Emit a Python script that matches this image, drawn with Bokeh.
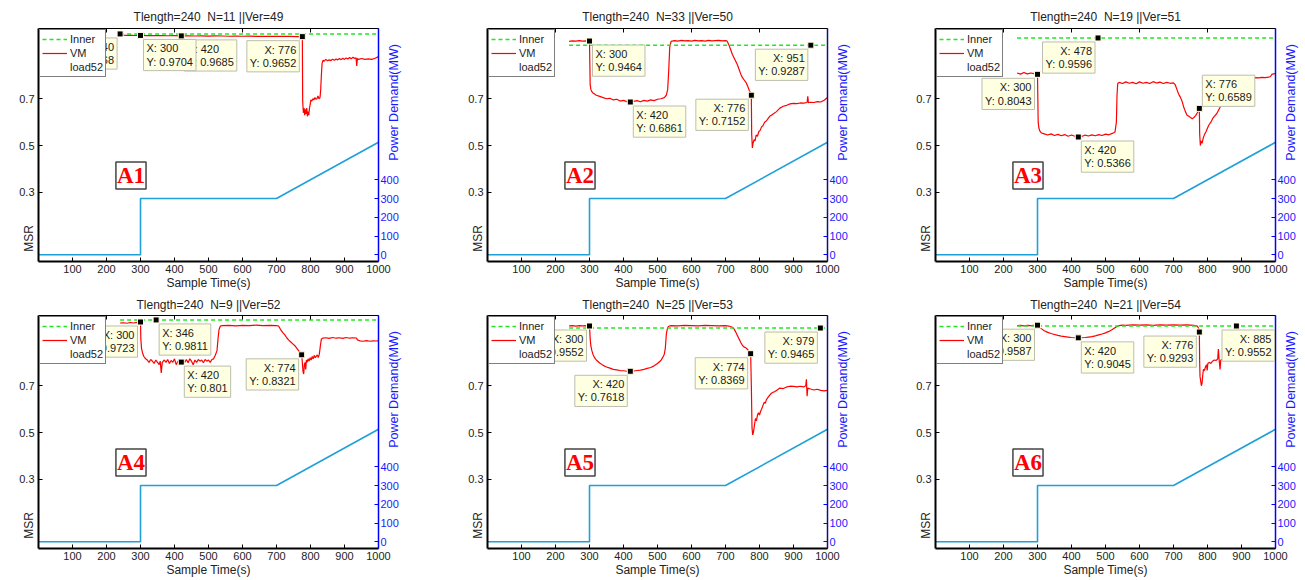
import math
from bokeh.plotting import figure
from bokeh.models import Range1d, LinearAxis, FixedTicker, Label, Legend, LegendItem
from bokeh.layouts import column, row
from bokeh.embed import file_html
from bokeh.resources import INLINE

# ---------------- data ----------------
NB = "\u00a0"
titles = ["Tlength=240" + NB + " N=11 ||Ver=49", "Tlength=240" + NB + " N=33 ||Ver=50",
          "Tlength=240" + NB + " N=19 ||Ver=51", "Tlength=240" + NB + " N=9 ||Ver=52",
          "Tlength=240" + NB + " N=25 ||Ver=53", "Tlength=240" + NB + " N=21 ||Ver=54"]
tags = ["A1", "A2", "A3", "A4", "A5", "A6"]
x_ticks = [100, 200, 300, 400, 500, 600, 700, 800, 900, 1000]
top_ticks = [200, 400, 600, 800, 1000]
msr_ticks = [0.3, 0.5, 0.7]
mw_ticks = [0, 100, 200, 300, 400]

load_t = [0, 300, 300, 700, 1000]
load_mw = [0, 0, 300, 300, 600]

inner_t = [240, 1000]
inner_levels = [0.9768, 0.9287, 0.9596, 0.9811, 0.9465, 0.9552]

vm1_t = [240, 250, 260, 270, 280, 290, 300, 320, 340, 360, 380, 400, 420, 440, 460, 480, 500, 520, 540, 560,
         580, 600, 620, 640, 660, 680, 700, 720, 740, 760, 776, 777, 779, 781, 783, 785, 787, 789, 791, 793,
         795, 797, 799, 801, 804, 807, 810, 813, 816, 819, 822, 825, 828, 830, 832, 834, 837, 840, 845, 850,
         855, 860, 865, 870, 875, 880, 885, 890, 895, 900, 905, 910, 915, 920, 925, 930, 934, 936, 938, 942,
         950, 960, 970, 980, 990, 1000]
vm1_v = [0.9768, 0.972, 0.971, 0.9715, 0.970, 0.9712, 0.9704, 0.970, 0.9695, 0.9702, 0.969, 0.9695, 0.9685,
         0.969, 0.968, 0.9688, 0.9678, 0.9685, 0.968, 0.967, 0.9678, 0.967, 0.9675, 0.9665, 0.967, 0.966,
         0.9668, 0.966, 0.9665, 0.9655, 0.9652, 0.69, 0.64, 0.66, 0.63, 0.655, 0.635, 0.66, 0.625, 0.645,
         0.63, 0.66, 0.675, 0.695, 0.69, 0.70, 0.695, 0.705, 0.698, 0.70, 0.712, 0.70, 0.705, 0.74, 0.80,
         0.85, 0.865, 0.86, 0.868, 0.862, 0.866, 0.863, 0.869, 0.864, 0.87, 0.866, 0.872, 0.867, 0.873,
         0.868, 0.874, 0.87, 0.876, 0.871, 0.877, 0.872, 0.875, 0.84, 0.872, 0.868, 0.872, 0.868, 0.87,
         0.868, 0.873, 0.88]

vm2_t = [240, 250, 260, 270, 280, 290, 300, 301, 302, 304, 307, 310, 315, 320, 330, 340, 350, 360, 370, 380,
         390, 400, 410, 420, 430, 440, 450, 460, 470, 480, 490, 500, 510, 520, 526, 530, 533, 536, 540, 550,
         560, 570, 580, 590, 600, 610, 620, 630, 640, 650, 660, 670, 680, 690, 700, 705, 710, 715, 720, 725,
         730, 735, 740, 745, 750, 755, 760, 765, 770, 774, 776, 777, 779, 781, 784, 787, 790, 794, 798, 802,
         806, 810, 815, 820, 825, 830, 835, 840, 850, 860, 870, 880, 890, 900, 910, 920, 930, 940, 942, 944,
         950, 960, 970, 980, 990, 1000]
vm2_v = [0.945, 0.947, 0.946, 0.948, 0.946, 0.947, 0.9464, 0.85, 0.76, 0.74, 0.73, 0.725, 0.72, 0.715, 0.71,
         0.705, 0.70, 0.702, 0.695, 0.698, 0.69, 0.693, 0.688, 0.6861, 0.689, 0.692, 0.687, 0.693, 0.69,
         0.695, 0.692, 0.698, 0.70, 0.705, 0.715, 0.74, 0.82, 0.92, 0.945, 0.948, 0.946, 0.949, 0.947, 0.948,
         0.946, 0.949, 0.947, 0.948, 0.946, 0.949, 0.947, 0.948, 0.949, 0.947, 0.948, 0.946, 0.93, 0.91,
         0.89, 0.875, 0.86, 0.845, 0.825, 0.805, 0.79, 0.78, 0.77, 0.755, 0.735, 0.725, 0.7152, 0.55, 0.49,
         0.51, 0.525, 0.52, 0.545, 0.54, 0.56, 0.565, 0.58, 0.585, 0.60, 0.605, 0.615, 0.625, 0.63, 0.635,
         0.645, 0.66, 0.668, 0.672, 0.678, 0.68, 0.679, 0.682, 0.681, 0.684, 0.71, 0.683, 0.685, 0.684, 0.688,
         0.686, 0.694, 0.705]

vm3_t = [240, 250, 260, 270, 280, 290, 300, 301, 302, 304, 307, 310, 315, 320, 330, 340, 350, 360, 370, 380,
         390, 400, 410, 420, 430, 440, 450, 460, 470, 480, 490, 500, 510, 520, 528, 532, 534, 536, 540, 550,
         560, 570, 580, 590, 600, 610, 620, 630, 640, 650, 660, 670, 680, 690, 700, 705, 710, 715, 720, 725,
         730, 735, 740, 745, 750, 755, 760, 765, 770, 774, 776, 777, 779, 781, 784, 788, 792, 796, 800, 805,
         810, 815, 820, 827, 832, 837, 845, 855, 865, 875, 885, 895, 905, 915, 920, 930, 940, 950, 960, 970,
         980, 985, 990, 1000]
vm3_v = [0.81, 0.805, 0.812, 0.806, 0.81, 0.807, 0.8043, 0.70, 0.60, 0.575, 0.562, 0.556, 0.552, 0.55, 0.545,
         0.55, 0.543, 0.548, 0.542, 0.547, 0.54, 0.545, 0.54, 0.5366, 0.539, 0.545, 0.541, 0.546, 0.542,
         0.547, 0.543, 0.549, 0.546, 0.552, 0.558, 0.60, 0.72, 0.765, 0.77, 0.765, 0.772, 0.766, 0.77, 0.764,
         0.772, 0.766, 0.77, 0.765, 0.773, 0.767, 0.771, 0.765, 0.77, 0.766, 0.768, 0.76, 0.74, 0.72, 0.707,
         0.69, 0.665, 0.645, 0.63, 0.625, 0.62, 0.615, 0.62, 0.628, 0.64, 0.65, 0.6589, 0.55, 0.50, 0.52,
         0.51, 0.535, 0.55, 0.56, 0.575, 0.59, 0.60, 0.615, 0.625, 0.636, 0.65, 0.664, 0.69, 0.72, 0.74,
         0.755, 0.765, 0.775, 0.78, 0.786, 0.79, 0.788, 0.79, 0.789, 0.791, 0.79, 0.792, 0.795, 0.805, 0.807]

vm4_t = [240, 250, 260, 270, 280, 290, 300, 301, 303, 306, 310, 315, 320, 325, 330, 335, 340, 345, 350, 355,
         358, 361, 364, 370, 375, 380, 385, 390, 395, 400, 405, 410, 415, 420, 425, 430, 435, 440, 445, 450,
         455, 460, 465, 470, 475, 480, 485, 490, 495, 500, 505, 510, 515, 520, 525, 528, 531, 535, 540, 560,
         580, 600, 620, 640, 660, 680, 700, 706, 712, 718, 724, 730, 736, 742, 748, 754, 760, 766, 770, 774,
         776, 778, 780, 782, 784, 786, 788, 790, 793, 796, 799, 802, 805, 808, 811, 814, 817, 820, 823, 826,
         829, 832, 836, 845, 855, 865, 875, 885, 895, 905, 915, 925, 935, 938, 945, 955, 965, 975, 985, 995,
         1000]
vm4_v = [0.968, 0.969, 0.967, 0.97, 0.968, 0.971, 0.9723, 0.90, 0.86, 0.84, 0.825, 0.815, 0.81, 0.80, 0.812,
         0.805, 0.795, 0.81, 0.80, 0.79, 0.805, 0.755, 0.80, 0.81, 0.80, 0.812, 0.795, 0.808, 0.80, 0.815,
         0.79, 0.805, 0.81, 0.801, 0.81, 0.80, 0.812, 0.798, 0.815, 0.805, 0.79, 0.81, 0.80, 0.812, 0.805,
         0.81, 0.798, 0.812, 0.805, 0.81, 0.80, 0.812, 0.815, 0.83, 0.85, 0.90, 0.94, 0.955, 0.957, 0.958,
         0.956, 0.958, 0.957, 0.959, 0.957, 0.958, 0.957, 0.955, 0.94, 0.928, 0.918, 0.905, 0.895, 0.887,
         0.879, 0.871, 0.86, 0.848, 0.84, 0.8321, 0.80, 0.76, 0.75, 0.79, 0.80, 0.77, 0.81, 0.80, 0.815,
         0.805, 0.82, 0.81, 0.825, 0.815, 0.83, 0.82, 0.825, 0.832, 0.82, 0.835, 0.87, 0.90, 0.903, 0.905,
         0.902, 0.906, 0.903, 0.905, 0.902, 0.906, 0.903, 0.905, 0.904, 0.896, 0.892, 0.89, 0.893, 0.89,
         0.892, 0.891, 0.893]

vm5_t = [240, 250, 260, 270, 280, 290, 300, 301, 302, 304, 307, 310, 315, 320, 330, 340, 350, 360, 370, 380,
         390, 400, 410, 420, 430, 440, 450, 460, 470, 480, 490, 500, 510, 515, 520, 523, 526, 530, 535, 540,
         560, 580, 600, 620, 640, 660, 680, 700, 710, 720, 725, 730, 735, 740, 745, 750, 755, 760, 765, 770,
         774, 776, 778, 780, 782, 785, 788, 791, 794, 797, 800, 803, 806, 810, 814, 817, 820, 825, 830, 835,
         840, 845, 850, 860, 870, 880, 890, 900, 910, 920, 930, 936, 938, 940, 942, 950, 960, 970, 980, 990,
         1000]
vm5_v = [0.956, 0.957, 0.955, 0.957, 0.956, 0.957, 0.9552, 0.93, 0.90, 0.87, 0.85, 0.835, 0.82, 0.81, 0.797,
         0.787, 0.78, 0.775, 0.77, 0.768, 0.765, 0.764, 0.762, 0.7618, 0.763, 0.765, 0.767, 0.77, 0.774,
         0.778, 0.785, 0.795, 0.808, 0.82, 0.835, 0.86, 0.92, 0.95, 0.955, 0.957, 0.956, 0.958, 0.957, 0.956,
         0.958, 0.957, 0.956, 0.957, 0.955, 0.95, 0.943, 0.93, 0.915, 0.90, 0.885, 0.872, 0.865, 0.862,
         0.855, 0.845, 0.8369, 0.70, 0.52, 0.49, 0.50, 0.53, 0.56, 0.55, 0.575, 0.585, 0.575, 0.59, 0.60,
         0.615, 0.63, 0.625, 0.64, 0.65, 0.66, 0.668, 0.672, 0.675, 0.68, 0.69, 0.688, 0.695, 0.698, 0.697,
         0.695, 0.698, 0.695, 0.70, 0.728, 0.655, 0.69, 0.686, 0.682, 0.685, 0.68, 0.678, 0.68]

vm6_t = [240, 250, 260, 270, 280, 290, 300, 305, 310, 320, 330, 340, 350, 360, 370, 380, 390, 400, 410, 420,
         430, 440, 450, 460, 470, 480, 490, 500, 510, 520, 530, 540, 550, 560, 580, 600, 620, 640, 660, 680,
         700, 720, 740, 760, 770, 774, 776, 777, 778, 780, 782, 784, 786, 788, 791, 794, 797, 799, 801, 805,
         810, 815, 820, 825, 830, 832, 834, 837, 839, 845, 850, 855, 860, 865, 870, 875, 880, 885, 890, 900,
         920, 940, 960, 980, 1000]
vm6_v = [0.957, 0.958, 0.956, 0.958, 0.957, 0.958, 0.9587, 0.952, 0.945, 0.935, 0.928, 0.923, 0.919, 0.915,
         0.912, 0.91, 0.908, 0.906, 0.905, 0.9045, 0.905, 0.906, 0.908, 0.91, 0.913, 0.917, 0.921, 0.926,
         0.932, 0.94, 0.95, 0.957, 0.959, 0.958, 0.96, 0.959, 0.96, 0.958, 0.96, 0.959, 0.96, 0.959, 0.96,
         0.958, 0.955, 0.945, 0.9293, 0.80, 0.74, 0.72, 0.70, 0.71, 0.745, 0.77, 0.765, 0.78, 0.79, 0.765,
         0.795, 0.80, 0.795, 0.805, 0.81, 0.808, 0.815, 0.857, 0.815, 0.77, 0.81, 0.812, 0.815, 0.81, 0.818,
         0.813, 0.82, 0.815, 0.82, 0.822, 0.82, 0.822, 0.82, 0.823, 0.82, 0.822, 0.82]

vm_t = [vm1_t, vm2_t, vm3_t, vm4_t, vm5_t, vm6_t]
vm_v = [vm1_v, vm2_v, vm3_v, vm4_v, vm5_v, vm6_v]

# data tips: x, y, placement (drawn in list order)
tip_x = [[240, 420, 300, 776], [300, 420, 776, 951], [300, 420, 478, 776],
         [300, 346, 420, 774], [300, 420, 774, 979], [300, 420, 776, 885]]
tip_y = [[0.9768, 0.9685, 0.9704, 0.9652], [0.9464, 0.6861, 0.7152, 0.9287], [0.8043, 0.5366, 0.9596, 0.6589],
         [0.9723, 0.9811, 0.801, 0.8321], [0.9552, 0.7618, 0.8369, 0.9465], [0.9587, 0.9045, 0.9293, 0.9552]]
tip_pos = [["bl", "br", "br", "bl"], ["br", "br", "bl", "bl"], ["bl", "br", "bl", "tr"],
           ["bl", "br", "br", "bl"], ["bl", "bl", "bl", "bl"], ["bl", "br", "bl", "bx"]]

# ---------------- style / layout ----------------
FONT = "Liberation Sans"
FRAME_W, FRAME_H = 340, 233
col_left = [38, 47, 65]
col_right = [62, 43, 29]
row_top = [28, 19]
row_bottom = [33, 30]
title_standoff = [5, 4]
X0, X1 = 0, 1000
Y0, Y1 = 0.005, 1.0
MW0, MW1 = -36, 1207
right_spine = ["#0000FF", "#10107A", "#0000FF"]
load_leg_color = ["#5C85F5", "#0000E6"]
load_leg_width = [2.5, 1.2]


def set_opt(model, **kw):
    ok = True
    for k, v in kw.items():
        try:
            setattr(model, k, v)
        except Exception:
            ok = False
    return ok


def make_panel(i):
    r, c = divmod(i, 3)
    p = figure(frame_width=FRAME_W, frame_height=FRAME_H,
               min_border_left=col_left[c], min_border_right=col_right[c],
               min_border_top=row_top[r], min_border_bottom=row_bottom[r],
               x_range=Range1d(X0, X1), y_range=Range1d(Y0, Y1),
               output_backend="svg", toolbar_location=None, title=None)
    p.outline_line_color = None
    p.xgrid.visible = False
    p.ygrid.visible = False
    p.background_fill_color = "white"
    p.border_fill_color = "white"
    p.extra_y_ranges = {"mw": Range1d(MW0, MW1)}

    xa = p.xaxis[0]
    xa.ticker = FixedTicker(ticks=x_ticks)
    ya = p.yaxis[0]
    ya.ticker = FixedTicker(ticks=msr_ticks)
    for ax in (xa, ya):
        ax.axis_line_width = 2
        ax.axis_line_color = "black"
        ax.major_tick_in = 4
        ax.major_tick_out = 0
        ax.minor_tick_line_color = None
        ax.major_label_text_font = FONT
        ax.major_label_text_font_size = "11px"
        ax.major_label_text_color = "#222222"
        ax.axis_label_text_font = FONT
        ax.axis_label_text_font_size = "12px"
        ax.axis_label_text_font_style = "normal"
        ax.axis_label_text_color = "#222222"
    xa.major_label_standoff = 3
    ya.major_label_standoff = 4

    xa.axis_label = "Sample Time(s)"
    xa.axis_label_standoff = 0

    # "MSR" sits low on the left side: centred label padded at its top end
    ya.axis_label = "MSR" + NB * 56
    ya.axis_label_standoff = -20

    # top axis carries the panel title
    top = LinearAxis(ticker=FixedTicker(ticks=top_ticks),
                     major_label_overrides={t: "" for t in top_ticks},
                     major_label_text_font_size="0px", major_label_standoff=0,
                     major_tick_in=4, major_tick_out=0, minor_tick_line_color=None,
                     axis_line_width=1, axis_line_color="black",
                     axis_label=titles[i], axis_label_standoff=title_standoff[r],
                     axis_label_text_font=FONT, axis_label_text_font_size="12px",
                     axis_label_text_font_style="normal", axis_label_text_color="#222222")
    p.add_layout(top, "above")

    ra = LinearAxis(y_range_name="mw", ticker=FixedTicker(ticks=mw_ticks),
                    major_tick_in=4, major_tick_out=0, minor_tick_line_color=None,
                    axis_line_width=1.5, axis_line_color=right_spine[c],
                    major_tick_line_color="#0000FF",
                    major_label_text_color="#1A1AFF", major_label_text_font=FONT,
                    major_label_text_font_size="11px", major_label_standoff=2,
                    axis_label_text_font=FONT, axis_label_text_font_size="12.5px",
                    axis_label_text_font_style="normal", axis_label_text_color="#1A1AFF",
                    axis_label_standoff=-8)
    rot = set_opt(ra, axis_label_orientation=math.pi / 2)
    if rot and set_opt(ra, axis_label_align="start"):
        ra.axis_label = NB * 29 + "Power Demand(MW)"
    else:
        ra.axis_label = "Power Demand(MW)"
    p.add_layout(ra, "right")

    # lines
    p.line(load_t, load_mw, y_range_name="mw", line_color="#1FA0D8", line_width=1.6)
    r_vm = p.line(vm_t[i], vm_v[i], line_color="#FF0000", line_width=1.2)
    r_in = p.line(inner_t, [inner_levels[i]] * 2, line_color="#22E622", line_width=1.5, line_dash="4 3")
    r_ld = p.line([], [], line_color=load_leg_color[r], line_width=load_leg_width[r])

    # data tips
    p.scatter(tip_x[i], tip_y[i], marker="square", size=6, fill_color="black",
              line_color="#FFFFE0", line_width=1)
    for tx, ty, pos in zip(tip_x[i], tip_y[i], tip_pos[i]):
        kw = dict(x=tx, y=ty, text=f"X: {tx}\nY: {ty:g}", text_font=FONT, text_font_size="11px",
                  text_line_height=1.1, text_color="#1a1a1a", background_fill_color="#FFFFE1",
                  border_line_color="#BDBDAF", border_line_width=1, padding=3)
        if pos == "br":
            kw.update(text_align="left", text_baseline="top", x_offset=3, y_offset=-4)
        elif pos == "bl":
            kw.update(text_align="right", text_baseline="top", x_offset=-3, y_offset=-4)
        elif pos == "bx":
            kw.update(x=X1, text_align="right", text_baseline="top", x_offset=-1, y_offset=-4)
        else:
            kw.update(text_align="left", text_baseline="bottom", x_offset=3, y_offset=2)
        p.add_layout(Label(**kw))

    # panel tag
    p.add_layout(Label(x=272, y=0.372, text=tags[i], text_font="Liberation Serif",
                       text_font_style="bold", text_font_size="23px", text_color="#FF0000",
                       text_align="center", text_baseline="middle",
                       background_fill_color="white", border_line_color="#444444",
                       border_line_width=1.5, padding=1))

    legend = Legend(items=[LegendItem(label="Inner", renderers=[r_in]),
                           LegendItem(label="VM", renderers=[r_vm]),
                           LegendItem(label="load52", renderers=[r_ld])],
                    location="top_left", margin=1, border_line_color="black", border_line_width=1,
                    background_fill_color="white", background_fill_alpha=1.0,
                    padding=2, spacing=0, glyph_width=25, glyph_height=14,
                    label_height=14, label_standoff=3, label_text_font=FONT,
                    label_text_font_size="11px", label_text_color="#222222")
    p.add_layout(legend)
    return p


panels = [make_panel(i) for i in range(6)]
layout = column(row(*panels[:3]), row(*panels[3:]))
open("out.html", "w").write(file_html(layout, INLINE))
